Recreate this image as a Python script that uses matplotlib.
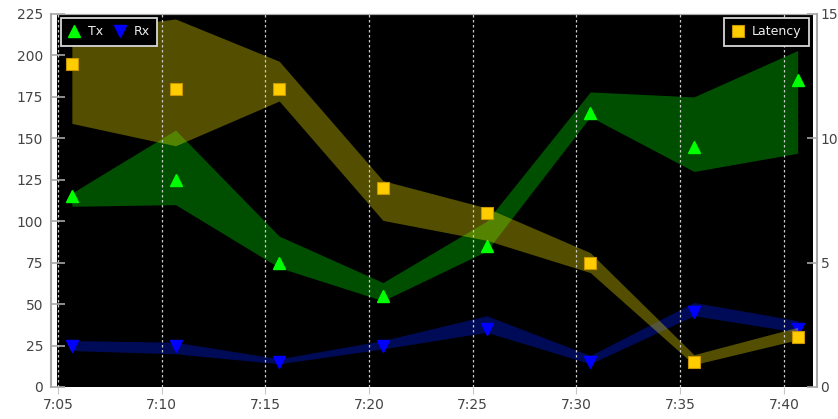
import matplotlib
matplotlib.use("Agg")
import matplotlib.pyplot as plt
import matplotlib.dates as mdates
import pandas as pd

# ---- data ----
times = ["7:05:40", "7:10:40", "7:15:40", "7:20:40", "7:25:40", "7:30:40", "7:35:40", "7:40:40"]
tx = [115, 125, 75, 55, 85, 165, 145, 185]
tx_low = [109, 110, 72, 52, 82, 163, 130, 141]
tx_high = [117, 155, 91, 63, 100, 178, 175, 203]
rx = [25, 25, 15, 25, 35, 15, 45, 35]
rx_low = [22, 20, 14, 23, 33, 14, 43, 33]
rx_high = [28, 27, 17, 28, 43, 19, 51, 40]
latency = [13, 12, 12, 8, 7, 5, 1, 2]
lat_low = [10.6, 9.7, 11.5, 6.7, 5.9, 4.6, 0.9, 1.9]
lat_high = [14.3, 14.8, 13.1, 8.3, 7.2, 5.4, 1.3, 2.4]
tick_times = ["7:05", "7:10", "7:15", "7:20", "7:25", "7:30", "7:35", "7:40"]
left_ticks = [0, 25, 50, 75, 100, 125, 150, 175, 200, 225]
right_ticks = [0, 5, 10, 15]

day = "2000-01-01 "
x = pd.to_datetime([day + t for t in times])
xt = pd.to_datetime([day + t for t in tick_times])

fig = plt.figure(figsize=(8.38, 4.19), dpi=100)
ax1 = fig.add_axes([0.068, 0.0764, 0.902, 0.8902])
ax2 = ax1.twinx()
ax1.set_facecolor("black")

ax1.fill_between(x, tx_low, tx_high, color="#00ff00", alpha=0.31, lw=0)
ax1.fill_between(x, rx_low, rx_high, color="#0020ff", alpha=0.35, lw=0)
h_tx, = ax1.plot(x, tx, ls="none", marker="^", ms=8.6, color="#00ff00", mec="#00ff00", label="Tx")
h_rx, = ax1.plot(x, rx, ls="none", marker="v", ms=8.6, color="#0000ff", mec="#0000ff", label="Rx")

ax2.fill_between(x, lat_low, lat_high, color="#fff000", alpha=0.33, lw=0)
h_lat, = ax2.plot(x, latency, ls="none", marker="s", ms=8, color="#ffcc00", mec="#c89600", mew=0.8, label="Latency")

ax1.set_ylim(0, 225)
ax2.set_ylim(0, 15)
ax1.set_yticks(left_ticks)
ax2.set_yticks(right_ticks)
ax1.set_xlim(pd.Timestamp(day + "7:04:57"), pd.Timestamp(day + "7:41:24"))
ax1.set_xticks(xt)
ax1.xaxis.set_major_formatter(plt.FuncFormatter(
    lambda v, p: "{}:{:02d}".format(mdates.num2date(v).hour, mdates.num2date(v).minute)))

# grid on top axes
ax2.xaxis.set_visible(True)
ax2.tick_params(axis="x", bottom=False, top=False, labelbottom=False, labeltop=False)
ax2.grid(axis="x", color="#c8c8c8", lw=0.9, ls=(0, (2, 2)))

tick_col = "#444444"
spine_col = "#a8a8a8"
for a in (ax1, ax2):
    for s in a.spines.values():
        s.set_color(spine_col)
    a.spines["bottom"].set_visible(False)
ax1.spines["right"].set_visible(False)
ax2.spines["left"].set_visible(False)
ax1.spines["left"].set_position(("outward", 4))
ax2.spines["right"].set_position(("outward", 3))
ax1.spines["left"].set_linewidth(1.5)
ax2.spines["right"].set_linewidth(1.5)

ax1.tick_params(axis="y", direction="in", length=10, color=spine_col, labelcolor=tick_col,
                labelsize=10, pad=6, width=1.2)
ax2.tick_params(axis="y", direction="in", length=7, color=spine_col, labelcolor=tick_col,
                labelsize=10, pad=2.5, width=1.2)
ax1.tick_params(axis="x", direction="out", length=5, color="#c8c8c8", labelcolor=tick_col,
                labelsize=10, pad=3)

leg_kw = dict(frameon=True, fancybox=False, facecolor="black", edgecolor="#d8d8d8",
              fontsize=9, labelcolor="#eeeeee", handlelength=1.0, handletextpad=0.6,
              borderpad=0.6, borderaxespad=0.3, framealpha=1)
leg1 = ax2.legend(handles=[h_tx, h_rx], loc="upper left", ncol=2, columnspacing=0.8, **leg_kw)
leg1.get_frame().set_linewidth(1.3)
ax2.add_artist(leg1)
leg2 = ax2.legend(handles=[h_lat], loc="upper right", **leg_kw)
leg2.get_frame().set_linewidth(1.3)

fig.savefig("out.png", dpi=100)
